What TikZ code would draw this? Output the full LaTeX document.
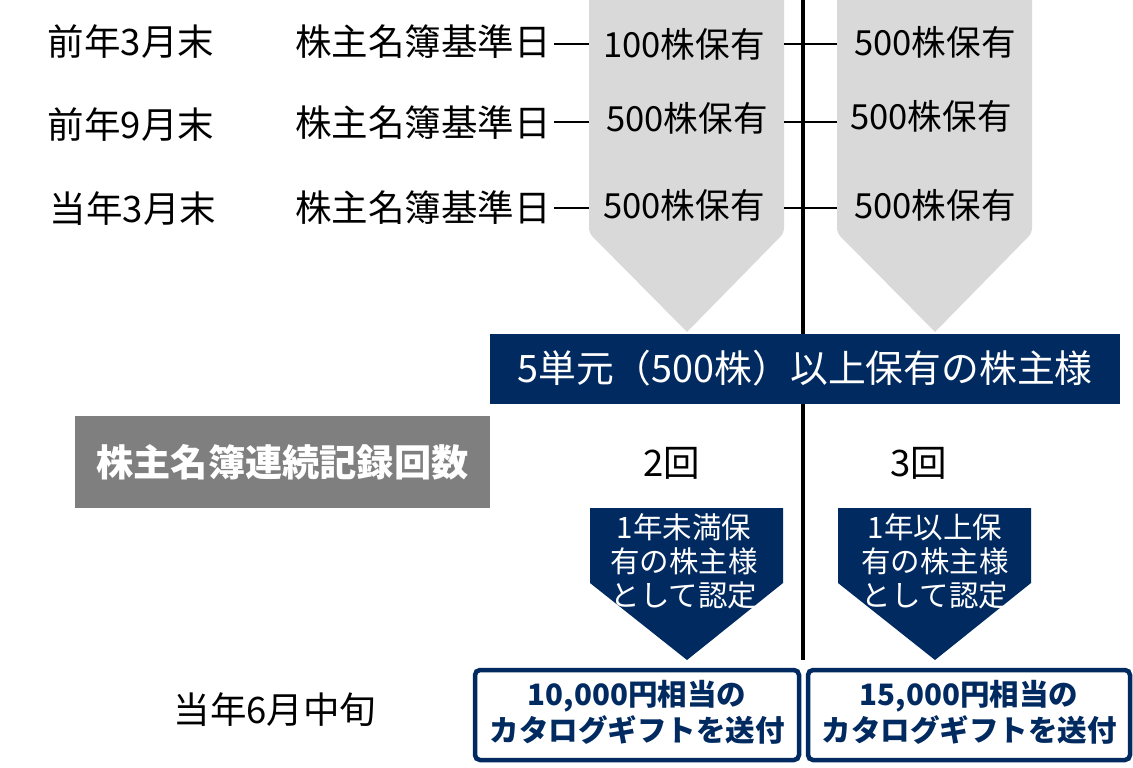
\documentclass[tikz,border=0pt]{standalone}
\usepackage{fontspec}
\setmainfont{Noto Sans CJK JP}
\definecolor{navy}{RGB}{0,42,96}
\definecolor{lgray}{RGB}{217,217,217}
\definecolor{mgray}{RGB}{127,127,127}
\begin{document}
\begin{tikzpicture}[x=1pt,y=-1pt,
  lbl/.style={inner sep=0pt,font=\fontsize{36.5}{40}\selectfont},
  hold/.style={inner sep=0pt,font=\fontsize{34.6}{40}\selectfont},
  conn/.style={draw=black,line width=1.5pt},
  garrow/.style={fill=lgray,rounded corners=5pt},
  narrow/.style={fill=navy},
  ntext/.style={inner sep=0pt,text=white,align=center,font=\fontsize{29.5}{34}\selectfont},
  gift/.style={draw=navy,line width=4.5pt,rounded corners=5pt,fill=white},
  gtext/.style={inner sep=0pt,text=navy,align=center,font=\fontsize{29.5}{36}\selectfont\bfseries}]
\useasboundingbox (0,0) rectangle (1133,768);
% gray arrows
\path[garrow] (589,-10) -- (784,-10) -- (784,233) [sharp corners] -- (687,332) [rounded corners=5pt] -- (589,233) -- cycle;
\path[garrow] (837,-10) -- (1032,-10) -- (1032,233) [sharp corners] -- (935,332) [rounded corners=5pt] -- (837,233) -- cycle;
% vertical line
\coordinate (vtop) at (803,0);
\coordinate (vbot) at (803,660);
\draw[line width=4pt] (vtop) -- (vbot);
% left labels
\node[lbl] (d1) at (131,42) {前年3月末};
\node[lbl] (d2) at (131,125) {前年9月末};
\node[lbl] (d3) at (133,209) {当年3月末};
\node[lbl,anchor=east] (k1) at (551,42) {株主名簿基準日};
\node[lbl,anchor=east] (k2) at (551,123) {株主名簿基準日};
\node[lbl,anchor=east] (k3) at (551,208) {株主名簿基準日};
% holdings
\node[hold] (a1) at (684,44) {100株保有};
\node[hold] (a2) at (687,118) {500株保有};
\node[hold] (a3) at (684,205) {500株保有};
\node[hold] (b1) at (935,42) {500株保有};
\node[hold] (b2) at (931,116) {500株保有};
\node[hold] (b3) at (935,205) {500株保有};
% connectors
\coordinate (la1) at (589,44); \coordinate (la2) at (589,122); \coordinate (la3) at (589,208);
\coordinate (ra1) at (784,44); \coordinate (ra2) at (784,122); \coordinate (ra3) at (784,208);
\coordinate (lb1) at (837,44); \coordinate (lb2) at (837,122); \coordinate (lb3) at (837,208);
\draw[conn] ([xshift=3pt]k1.east |- la1) -- (la1);
\draw[conn] ([xshift=3pt]k2.east |- la2) -- (la2);
\draw[conn] ([xshift=3pt]k3.east |- la3) -- (la3);
\draw[conn] (ra1) -- (lb1);
\draw[conn] (ra2) -- (lb2);
\draw[conn] (ra3) -- (lb3);
% banner
\node[fill=navy,minimum width=630pt,minimum height=70pt,inner sep=0pt,text=white,font=\fontsize{37.8}{40}\selectfont] (banner) at (805,368.5) {5単元（500株）以上保有の株主様};
% gray box
\node[fill=mgray,minimum width=415pt,minimum height=92pt,inner sep=0pt,text=white,font=\fontsize{37.2}{40}\selectfont\bfseries] (count) at (282.5,462) {株主名簿連続記録回数};
\node[lbl] (c2) at (672,463) {2回};
\node[lbl] (c3) at (919,463) {3回};
% navy arrows
\path[narrow] (590,508) -- (783,508) -- (783,583) -- (687,660) -- (590,583) -- cycle;
\path[narrow] (838,508) -- (1031,508) -- (1031,583) -- (935,660) -- (838,583) -- cycle;
\node[ntext] (n1) at (684,561) {1年未満保\\有の株主様\\として認定};
\node[ntext] (n2) at (935,561) {1年以上保\\有の株主様\\として認定};
% gifts
\draw[gift] (475,670) rectangle (799,760);
\draw[gift] (808,670) rectangle (1130,760);
\node[gtext] (g1) at (637,712) {10,000円相当の\\カタログギフトを送付};
\node[gtext] (g2) at (969,712) {15,000円相当の\\カタログギフトを送付};
\node[lbl] (t6) at (275,710) {当年6月中旬};
\end{tikzpicture}
\end{document}
